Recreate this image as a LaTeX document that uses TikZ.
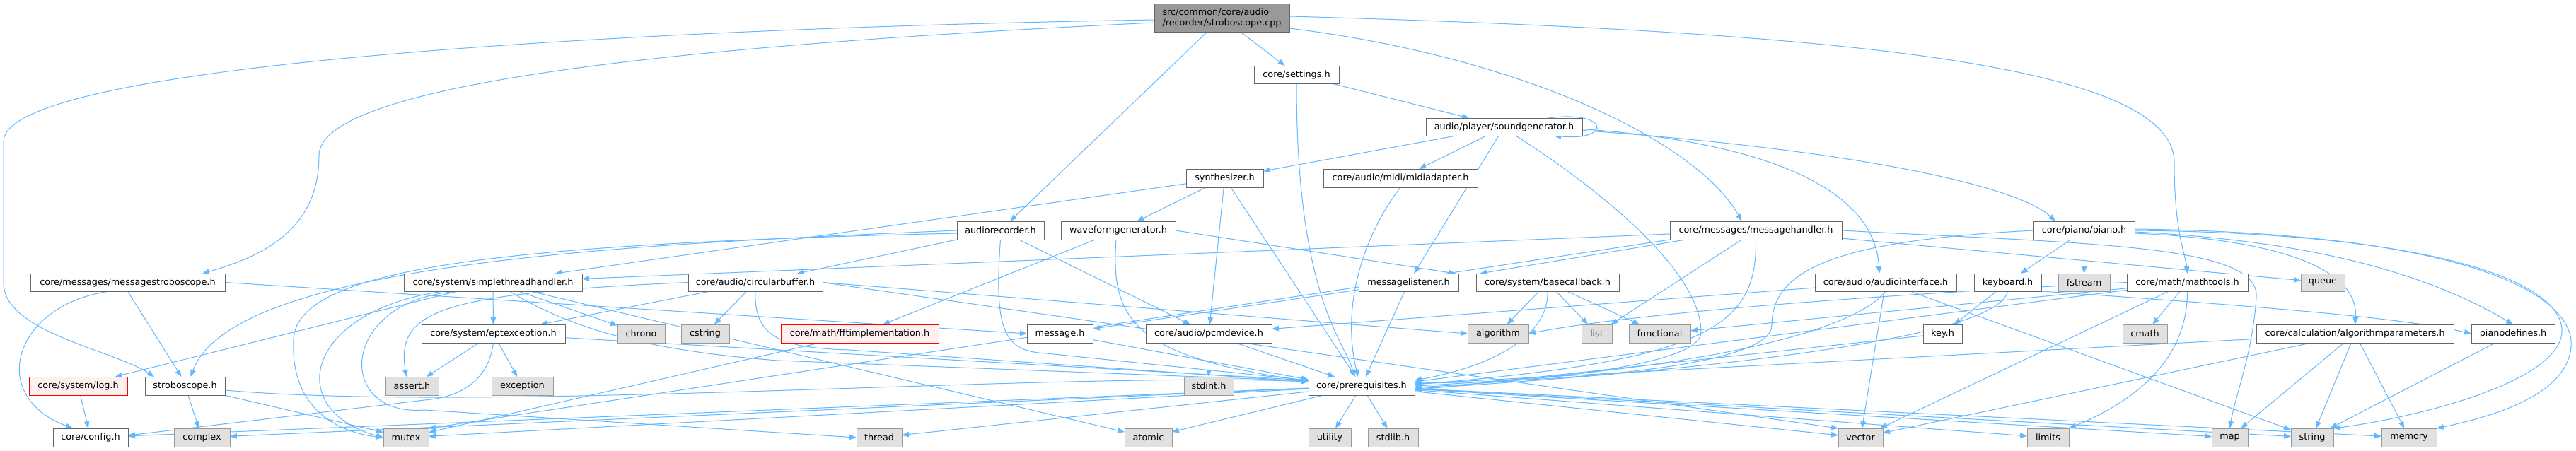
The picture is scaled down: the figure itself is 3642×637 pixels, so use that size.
\documentclass[tikz,border=0pt]{standalone}
\usepackage{fontspec}
\setmainfont{DejaVu Sans}
\usetikzlibrary{arrows.meta,backgrounds}
\definecolor{edgec}{HTML}{63B8FF}
\definecolor{nbord}{HTML}{666666}
\definecolor{extfill}{HTML}{E0E0E0}
\definecolor{extbord}{HTML}{999999}
\definecolor{redfill}{HTML}{FFF0F0}
\definecolor{topfill}{HTML}{999999}
\tikzset{
 nbase/.style={draw, line width=1pt, inner sep=0pt, outer sep=0pt, font=\fontsize{12.8}{15}\selectfont, text=black},
 hdr/.style={nbase, draw=nbord, fill=white},
 ext/.style={nbase, draw=extbord, fill=extfill},
 redn/.style={nbase, draw=red, fill=redfill},
 topn/.style={nbase, draw=nbord, fill=topfill, align=left},
 edg/.style={draw=edgec, line width=1pt, -{Triangle[length=10pt,width=7.5pt]}}
}
\newcommand{\nd}[7]{\node[#2, minimum width={#4-#3}, minimum height={#6-#5}] (#1) at ({(#3+#4)/2},{(#5+#6)/2}) {#7};}
\begin{document}
\begin{tikzpicture}[x=1pt,y=-1pt]
\useasboundingbox (0,0) rectangle (3642,637);
% row 0-4
\nd{cpp}{topn}{1632}{1823}{5}{45}{src/common/core/audio\\/recorder/stroboscope.cpp}
\nd{settings}{hdr}{1773}{1893}{93}{118}{core/settings.h}
\nd{sg}{hdr}{2016}{2237}{167}{192}{audio/player/soundgenerator.h}
\nd{synth}{hdr}{1677}{1786}{239}{265}{synthesizer.h}
\nd{midi}{hdr}{1871}{2089}{239}{265}{core/audio/midi/midiadapter.h}
\nd{arec}{hdr}{1353}{1476}{313}{339}{audiorecorder.h}
\nd{wave}{hdr}{1500}{1662}{313}{339}{waveformgenerator.h}
\nd{mh}{hdr}{2361}{2604}{313}{339}{core/messages/messagehandler.h}
\nd{piano}{hdr}{2875}{3018}{313}{339}{core/piano/piano.h}
% row 5
\nd{ms}{hdr}{43}{318}{387}{412}{core/messages/messagestroboscope.h}
\nd{sth}{hdr}{571}{823}{387}{412}{core/system/simplethreadhandler.h}
\nd{cb}{hdr}{973}{1163}{387}{412}{core/audio/circularbuffer.h}
\nd{ml}{hdr}{1921}{2062}{387}{412}{messagelistener.h}
\nd{bc}{hdr}{2087}{2289}{387}{412}{core/system/basecallback.h}
\nd{ai}{hdr}{2566}{2766}{387}{412}{core/audio/audiointerface.h}
\nd{kb}{hdr}{2791}{2886}{387}{412}{keyboard.h}
\nd{fstream}{ext}{2910}{2983}{387}{412}{fstream}
\nd{mt}{hdr}{3007}{3178}{387}{412}{core/math/mathtools.h}
\nd{queue}{ext}{3253}{3315}{387}{412}{queue}
% row 6
\nd{ept}{hdr}{596}{799}{459}{485}{core/system/eptexception.h}
\nd{chrono}{ext}{873}{940}{459}{485}{chrono}
\nd{cstring}{ext}{963}{1031}{459}{485}{cstring}
\nd{fft}{redn}{1104}{1327}{459}{485}{core/math/fftimplementation.h}
\nd{msg}{hdr}{1452}{1545}{459}{485}{message.h}
\nd{pcm}{hdr}{1620}{1798}{459}{485}{core/audio/pcmdevice.h}
\nd{algorithm}{ext}{2075}{2161}{459}{485}{algorithm}
\nd{list}{ext}{2236}{2279}{459}{485}{list}
\nd{functional}{ext}{2303}{2390}{459}{485}{functional}
\nd{key}{hdr}{2719}{2774}{459}{485}{key.h}
\nd{cmath}{ext}{3001}{3064}{459}{485}{cmath}
\nd{ap}{hdr}{3190}{3469}{459}{485}{core/calculation/algorithmparameters.h}
\nd{pd}{hdr}{3494}{3612}{459}{485}{pianodefines.h}
% row 7
\nd{log}{redn}{41}{180}{533}{559}{core/system/log.h}
\nd{strobo}{hdr}{205}{318}{533}{559}{stroboscope.h}
\nd{assert}{ext}{545}{620}{533}{559}{assert.h}
\nd{exception}{ext}{695}{782}{533}{559}{exception}
\nd{stdint}{ext}{1674}{1744}{533}{559}{stdint.h}
\nd{pre}{hdr}{1850}{2000}{533}{559}{core/prerequisites.h}
% row 8
\nd{config}{hdr}{75}{181}{606}{632}{core/config.h}
\nd{complex}{ext}{246}{325}{606}{632}{complex}
\nd{mutex}{ext}{542}{606}{606}{632}{mutex}
\nd{thread}{ext}{1211}{1275}{606}{632}{thread}
\nd{atomic}{ext}{1590}{1657}{606}{632}{atomic}
\nd{utility}{ext}{1850}{1910}{606}{632}{utility}
\nd{stdlib}{ext}{1934}{2005}{606}{632}{stdlib.h}
\nd{vector}{ext}{2599}{2662}{606}{632}{vector}
\nd{limits}{ext}{2866}{2925}{606}{632}{limits}
\nd{map}{ext}{3127}{3178}{606}{632}{map}
\nd{string}{ext}{3239}{3299}{606}{632}{string}
\nd{memory}{ext}{3367}{3445}{606}{632}{memory}

\begin{pgfonlayer}{background}
\fill[white] (0,0) rectangle (3642,637);
% cpp
\draw[edg] ([yshift=-3pt]cpp.west) .. controls (900,40) and (5,90) .. (5,200) -- (5,400) .. controls (5,470) and (160,495) .. ([xshift=13pt]strobo.north west);
\draw[edg] ([yshift=-7pt]cpp.west) .. controls (1050,60) and (451,110) .. (451,220) .. controls (451,320) and (380,360) .. ([xshift=-32pt]ms.north east);
\draw[edg] (cpp) -- (arec);
\draw[edg] (cpp) -- (settings);
\draw[edg] ([yshift=-15pt]cpp.east) .. controls (2150,80) and (2400,200) .. ([xshift=-20pt]mh.north);
\draw[edg] ([yshift=2pt]cpp.east) .. controls (2600,45) and (3074,90) .. (3074,230) .. controls (3074,330) and (3090,360) .. (mt.north);
% settings
\draw[edg] (settings) -- (sg);
\draw[edg] (settings.south) .. controls (1833,420) and (1900,480) .. ([xshift=-10pt]pre.north);
% soundgenerator
\draw[edg] ([xshift=-48pt]sg.north east) .. controls (2275,155) and (2280,200) .. ([xshift=-40pt]sg.south east);
\draw[edg] (sg) -- (synth);
\draw[edg] (sg) -- (midi);
\draw[edg] (sg) -- (ml);
\draw[edg] ([yshift=-3pt]sg.east) .. controls (2480,200) and (2650,260) .. ([xshift=-9pt]ai.north);
\draw[edg] ([yshift=-5pt]sg.east) .. controls (2600,210) and (2850,260) .. ([xshift=31pt]piano.north west);
\draw[edg] ([xshift=-94pt]sg.south east) .. controls (2250,260) and (2405,380) .. (2405,470) .. controls (2405,520) and (2150,540) .. ([yshift=-2pt]pre.east);
% synthesizer
\draw[edg] (synth) -- (sth);
\draw[edg] (synth) -- (wave);
\draw[edg] (synth) -- (pcm);
\draw[edg] (synth) -- (pre);
\draw[edg] (midi.south) .. controls (1930,330) and (1895,430) .. ([xshift=-5pt]pre.north);
% audiorecorder
\draw[edg] (arec.west) .. controls (900,345) and (330,370) .. ([xshift=8pt]strobo.north);
\draw[edg] ([yshift=-4pt]arec.west) .. controls (700,345) and (420,380) .. (415,480) .. controls (410,580) and (480,612) .. (mutex.west);
\draw[edg] (arec) -- (cb);
\draw[edg] (arec) -- (pcm);
\draw[edg] (arec.south) .. controls (1405,470) and (1420,497) .. (1480,500) -- ([yshift=8pt]pre.west);
% waveformgenerator
\draw[edg] (wave) -- (fft);
\draw[edg] ([xshift=-3pt]wave.south) .. controls (1570,450) and (1600,505) .. ([yshift=7pt]pre.west);
\draw[edg] (wave.east) -- ([xshift=-4pt]ml.north east);
% messagehandler
\draw[edg] (mh) -- (sth);
\draw[edg] ([xshift=22pt]mh.south west) -- ([xshift=5pt]bc.north west);
\draw[edg] (mh.south west) -- (mutex.north east);
\draw[edg] (mh) -- (list);
\draw[edg] (mh.south) .. controls (2484,460) and (2420,510) .. ([yshift=2pt]pre.east);
\draw[edg] (mh) -- (queue);
\draw[edg] (mh.east) .. controls (2950,345) and (3195,345) .. (3190,420) .. controls (3185,500) and (3160,560) .. (map.north);
% piano
\draw[edg] (piano) -- (kb);
\draw[edg] (piano) -- (fstream);
\draw[edg] ([yshift=-4pt]piano.east) .. controls (3250,340) and (3335,390) .. (ap.north);
\draw[edg] ([yshift=-2pt]piano.east) .. controls (3250,340) and (3420,380) .. (pd.north);
\draw[edg] (piano.east) .. controls (3450,330) and (3625,400) .. (3622,470) .. controls (3618,540) and (3420,590) .. (string.north east);
\draw[edg] ([yshift=2pt]piano.east) .. controls (3500,330) and (3640,420) .. (3635,490) .. controls (3630,560) and (3520,590) .. (memory.north east);
\draw[edg] (piano.west) .. controls (2600,340) and (2505,380) .. (2505,460) .. controls (2505,520) and (2200,540) .. ([yshift=4pt]pre.east);
% keyboard / key
\draw[edg] (kb) -- (key);
\draw[edg] (kb.south) .. controls (2825,480) and (2400,525) .. ([yshift=-4pt]pre.east);
\draw[edg] (kb.south east) .. controls (3300,440) and (3420,455) .. (pd.west);
\draw[edg] (key) -- ([yshift=-6pt]pre.east);
% mathtools
\draw[edg] (mt) -- (cmath);
\draw[edg] (mt.south) .. controls (3093,520) and (3000,575) .. (limits.north east);
\draw[edg] (mt) -- (vector);
\draw[edg] (mt) -- ([yshift=6pt]pre.east);
\draw[edg] (mt) -- (functional);
\draw[edg] (mt.west) .. controls (2600,420) and (2300,445) .. (algorithm.east);
% audiointerface
\draw[edg] (ai) -- (pcm);
\draw[edg] (ai.south) .. controls (2620,470) and (2400,525) .. (pre.east);
\draw[edg] (ai) -- (vector);
\draw[edg] (ai) -- (string);
% basecallback
\draw[edg] (bc) -- (algorithm);
\draw[edg] (bc) -- (list);
\draw[edg] (bc) -- (functional);
\draw[edg] (bc.south) .. controls (2190,480) and (2100,520) .. ([yshift=8pt]pre.east);
% messagelistener, message, pcmdevice
\draw[edg] (ml) -- (msg);
\draw[edg] (ml) -- (pre);
\draw[edg] (msg) -- ([yshift=9pt]pre.west);
\draw[edg] (pcm) -- (stdint);
\draw[edg] (pcm) -- (pre);
% circularbuffer
\draw[edg] (cb.west) .. controls (620,415) and (560,440) .. ([xshift=-8pt]assert.north);
\draw[edg] (cb) -- (ept);
\draw[edg] (cb) -- (cstring);
\draw[edg] (cb.south) .. controls (1065,480) and (1110,492) .. (1200,495) -- ([yshift=6pt]pre.west);
\draw[edg] (cb.east) -- (algorithm.west);
\draw[edg] (cb.east) -- (vector.north west);
% eptexception
\draw[edg] (ept) -- (assert);
\draw[edg] (ept) -- (exception);
\draw[edg] (ept.south) .. controls (690,540) and (650,562) .. (600,566) -- ([yshift=3pt]config.east);
\draw[edg] (ept) -- ([yshift=8pt]pre.west);
% simplethreadhandler
\draw[edg] (sth) -- (log);
\draw[edg] (sth) -- (ept);
\draw[edg] (sth) -- (chrono);
\draw[edg] ([xshift=-70pt]sth.south) .. controls (430,440) and (400,580) .. (mutex.west);
\draw[edg] ([xshift=-45pt]sth.south) .. controls (480,420) and (470,590) .. (600,580) -- (thread.west);
\draw[edg] (sth) -- (atomic);
\draw[edg] ([xshift=23pt]sth.south) .. controls (800,460) and (900,495) .. (1100,510) -- ([yshift=7pt]pre.west);
% messagestroboscope, log, stroboscope
\draw[edg] ([xshift=-25pt]ms.south) .. controls (20,430) and (-20,560) .. ([xshift=-25pt]config.north);
\draw[edg] (ms.south) -- ([xshift=-5pt]strobo.north);
\draw[edg] (ms.east) -- (msg.west);
\draw[edg] (log) -- (config);
\draw[edg] (strobo) -- (complex);
\draw[edg] (strobo) -- (mutex);
\draw[edg] ([yshift=-6pt]strobo.east) .. controls (700,585) and (1500,525) .. ([yshift=6pt]pre.west);
% fft
\draw[edg] (fft) -- (mutex);
% algorithmparameters, pianodefines
\draw[edg] (ap) -- ([yshift=3pt]pre.east);
\draw[edg] (ap) -- (vector);
\draw[edg] (ap) -- (map);
\draw[edg] (ap) -- (string);
\draw[edg] (ap) -- (memory);
\draw[edg] (pd) -- (string);
% prerequisites
\draw[edg] (pre) -- (config);
\draw[edg] (pre) -- (complex);
\draw[edg] (pre) -- (mutex);
\draw[edg] (pre) -- (thread);
\draw[edg] (pre) -- (atomic);
\draw[edg] (pre) -- (utility);
\draw[edg] (pre) -- (stdlib);
\draw[edg] (pre) -- (vector);
\draw[edg] (pre) -- (limits);
\draw[edg] (pre) -- (map);
\draw[edg] (pre) -- (string);
\draw[edg] (pre) -- (memory);
\end{pgfonlayer}
\end{tikzpicture}
\end{document}
